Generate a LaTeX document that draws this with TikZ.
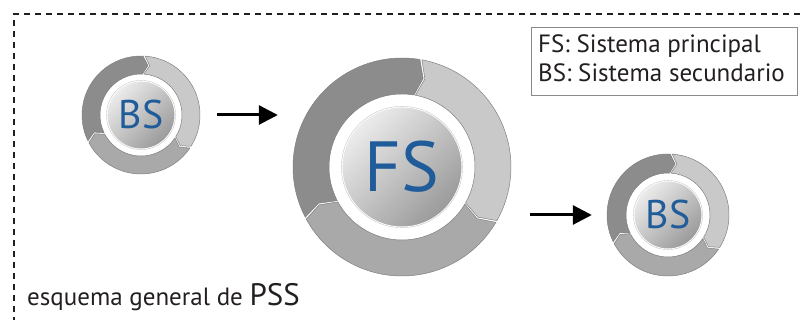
\documentclass[tikz,border=0pt]{standalone}
\usepackage{fontspec}
\setmainfont{PT Sans}
\usetikzlibrary{arrows.meta}

\definecolor{segdark}{HTML}{8C8C8C}
\definecolor{seglight}{HTML}{C9C9C9}
\definecolor{segmid}{HTML}{A9A9A9}
\definecolor{segedge}{HTML}{808080}
\definecolor{diskhi}{HTML}{ECECEC}
\definecolor{disklo}{HTML}{9A9A9A}
\definecolor{labelblue}{HTML}{1F5C99}
\definecolor{ink}{HTML}{231F20}
\definecolor{boxedge}{HTML}{8A8A8A}

% one chevron-shaped piece of a cycle ring, running clockwise from #2 to #3
% #1 colour, #4 outer radius, #5 inner radius, #6 tip offset (deg), #7 gap (deg)
\newcommand\ringpiece[7]{%
  \pgfmathsetmacro\rmid{(#4+#5)/2}%
  \pgfmathsetmacro\aS{#2-#7}%
  \pgfmathsetmacro\aE{#3+#7}%
  \pgfmathsetmacro\aT{#3+#7-#6}%
  \pgfmathsetmacro\aN{#2-#7-#6}%
  \filldraw[fill=#1, draw=segedge, line width=0.5pt]
    (\aS:#4pt) arc[start angle=\aS, end angle=\aE, radius=#4pt]
    -- (\aT:\rmid pt) -- (\aE:#5pt)
    arc[start angle=\aE, end angle=\aS, radius=#5pt]
    -- (\aN:\rmid pt) -- cycle;
}

% a three-piece cycle ring with a shaded hub
% #1,#2 centre, #3 outer r, #4 inner r, #5 hub r, #6-#8 piece borders, #9 tip offset
\newcommand\cyclering[9]{%
  \begin{scope}[shift={(#1,#2)}]
    \pgfmathsetmacro\gapang{60/#3}%
    \ringpiece{segdark}{#8}{#6}{#3}{#4}{#9}{\gapang}
    \ringpiece{seglight}{#6}{#7}{#3}{#4}{#9}{\gapang}
    \pgfmathsetmacro\wrapang{#8-360}%
    \ringpiece{segmid}{#7}{\wrapang}{#3}{#4}{#9}{\gapang}
    \shade[left color=diskhi, right color=disklo, shading angle=45]
      (0,0) circle[radius=#5pt];
    \draw[white, line width=1pt] (0,0) circle[radius=#5pt];
    \draw[gray!45, line width=0.4pt] (0,0) circle[radius=#5pt+0.6pt];
  \end{scope}
}

\tikzset{
  hub/.style={circle, inner sep=0pt, text=labelblue},
  flow/.style={-{Triangle[length=19pt,width=19pt]}, line width=3pt, black},
  frame/.style={dash pattern=on 6pt off 5pt, line width=1.4pt, ink},
  legendbox/.style={draw=boxedge, line width=1pt, inner sep=0pt},
  legendtext/.style={text=ink, font=\fontsize{25}{25}\selectfont, inner sep=0pt}
}

\begin{document}
\begin{tikzpicture}[x=1pt, y=1pt]
  \useasboundingbox (0,0) rectangle (800,320);

  % dashed border, open to the right and bottom
  \coordinate (frametop) at (800,306);
  \coordinate (framecorner) at (14,306);
  \coordinate (framebottom) at (14,0);
  \draw[frame] (frametop) -- (framecorner) -- (framebottom);

  % the three cycles
  \cyclering{141}{205}{59}{41}{34}{87}{-33}{207}{6}
  \cyclering{402}{153}{109}{73}{60}{80}{-30}{208}{4}
  \cyclering{668}{105}{61}{42}{34}{87}{-33}{207}{6}

  \node[hub, minimum size=118pt, font=\fontsize{40}{40}\selectfont] (bs1) at (141,205) {BS};
  \node[hub, minimum size=218pt, font=\fontsize{71}{71}\selectfont] (fs) at (402,153) {FS};
  \node[hub, minimum size=122pt, font=\fontsize{40}{40}\selectfont] (bs2) at (668,105) {BS};

  % transitions
  \draw[flow, shorten <=17pt, shorten >=15pt] (bs1.east) -- (bs1.east -| fs.west);
  \draw[flow, shorten <=19pt, shorten >=15pt] (bs2.west -| fs.east) -- (bs2.west);

  % legend
  \node[legendbox, minimum width=266pt, minimum height=68pt, anchor=north west] (legend) at (531,293) {};
  \node[legendtext, anchor=base west] (legendfs) at (538,267) {FS: Sistema principal};
  \node[legendtext, anchor=base west] (legendbs) at (538,238) {BS: Sistema secundario};

  % caption
  \node[anchor=base west, inner sep=0pt, text=ink, font=\fontsize{25}{25}\selectfont] (caption) at (27,14)
    {esquema general de {\fontsize{31}{31}\selectfont PSS}};
\end{tikzpicture}
\end{document}
